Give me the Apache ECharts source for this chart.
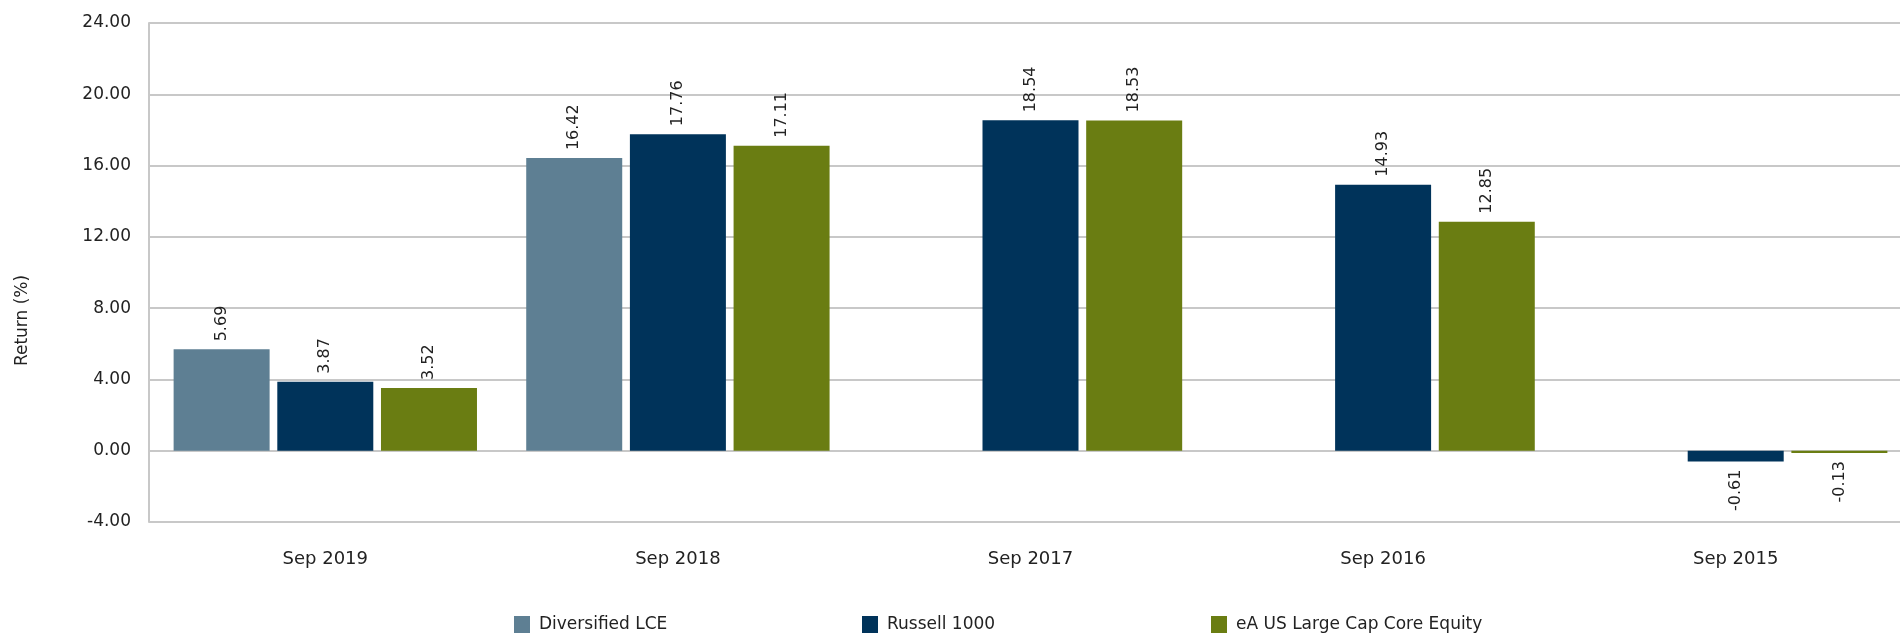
<!DOCTYPE html>
<html lang="en">
<head>
  <meta charset="UTF-8">
  <title>Return (%)</title>
  <script src="https://cdn.jsdelivr.net/npm/echarts@6/dist/echarts.min.js"></script>
  <style>
    html, body { margin: 0; overflow: hidden; }
    /* plot runs a little past the right edge of the window */
    #app { width: 1912px; height: 636px; }
  </style>
</head>
<body>
  <div id="app"></div>
  <script>
    var categories = ['Sep 2019', 'Sep 2018', 'Sep 2017', 'Sep 2016', 'Sep 2015']
    var diversified = [5.69, 16.42, null, null, null]
    var russell = [3.87, 17.76, 18.54, 14.93, -0.61]
    var eaCore = [3.52, 17.11, 18.53, 12.85, -0.13]
    var seriesNames = ['Diversified LCE', 'Russell 1000', 'eA US Large Cap Core Equity']

    var font = 'DejaVu Sans'

    // labels stand upright over the bar, hang below it when negative
    function withLabels(values) {
      return values.map(function (v) {
        if (v == null) return v
        return {
          value: v,
          label: v < 0
            ? { position: 'bottom', align: 'right' }
            : { position: 'top', align: 'left' }
        }
      })
    }

    function makeSeries(name, values, color) {
      return {
        name: name,
        type: 'bar',
        data: withLabels(values),
        barWidth: 96,
        barGap: '8%',
        itemStyle: { color: color },
        label: {
          show: true,
          rotate: 90,
          verticalAlign: 'middle',
          distance: 8,
          color: '#222',
          fontFamily: font,
          fontSize: 16,
          formatter: function (p) { return p.value.toFixed(2) }
        }
      }
    }

    // one legend per item so they sit on a wide, even spacing
    var legendLefts = [514, 862, 1211]
    var legends = seriesNames.map(function (n, i) {
      return {
        left: legendLefts[i],
        top: 616,
        padding: 0,
        itemWidth: 16,
        itemHeight: 17,
        icon: 'rect',
        textStyle: { fontFamily: font, fontSize: 17, color: '#222', padding: [0, 0, 0, 4] },
        data: [n]
      }
    })

    var chart = echarts.init(document.getElementById('app'))
    chart.setOption({
      animation: false,
      grid: { left: 149, right: 0, top: 23, bottom: 114 },
      legend: legends,
      xAxis: {
        type: 'category',
        data: categories,
        axisLine: { show: false },
        axisTick: { show: false },
        axisLabel: { margin: 28, color: '#222', fontFamily: font, fontSize: 18 }
      },
      yAxis: {
        type: 'value',
        min: -4,
        max: 24,
        interval: 4,
        name: 'Return (%)',
        nameLocation: 'middle',
        nameRotate: 90,
        nameGap: 118,
        nameTextStyle: { fontFamily: font, fontSize: 17, color: '#222', padding: [0, 96, 0, 0] },
        axisLine: { show: true, lineStyle: { color: '#c8c8c8', width: 2 } },
        splitLine: { lineStyle: { color: '#c8c8c8', width: 2 } },
        axisLabel: {
          margin: 18,
          color: '#222',
          fontFamily: font,
          fontSize: 17,
          formatter: function (v) { return v.toFixed(2) }
        }
      },
      series: [
        makeSeries(seriesNames[0], diversified, '#5e7f93'),
        makeSeries(seriesNames[1], russell, '#00335a'),
        makeSeries(seriesNames[2], eaCore, '#6a7d12')
      ]
    })
  </script>
</body>
</html>
